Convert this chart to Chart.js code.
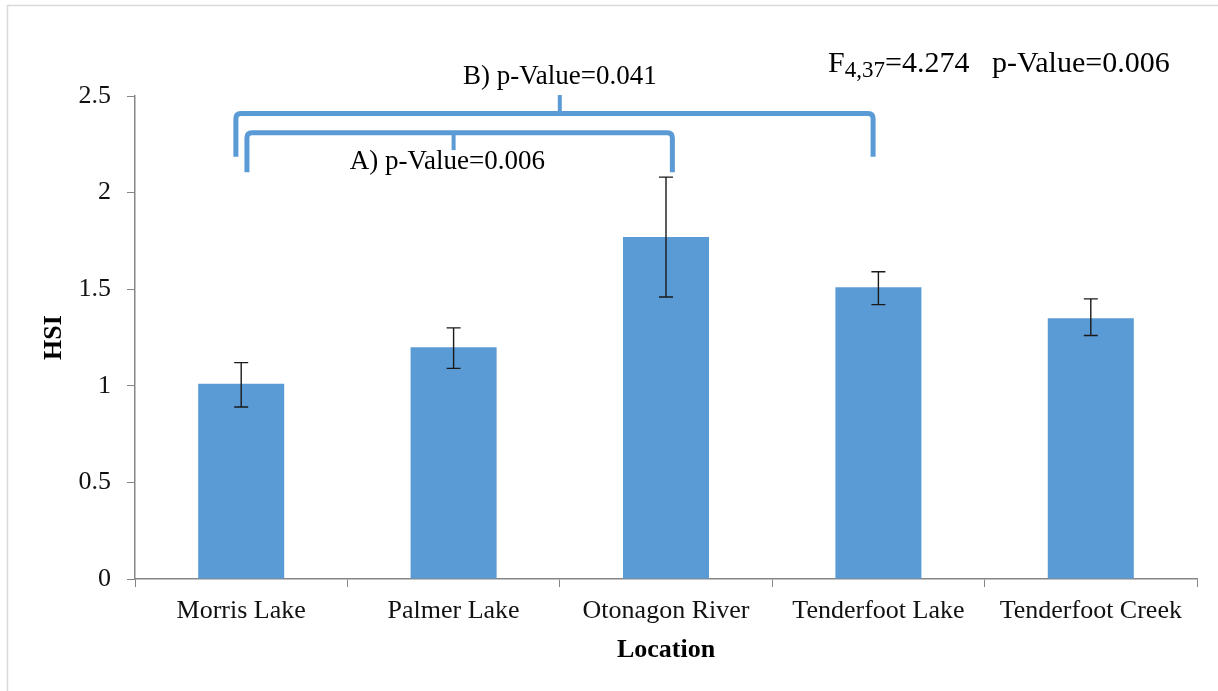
<!DOCTYPE html>
<html>
<head>
<meta charset="utf-8">
<script src="https://cdn.jsdelivr.net/npm/chart.js@4/dist/chart.umd.min.js"></script>
<style>
  html, body { margin: 0; padding: 0; background: #fff; }
  #wrap { width: 1218px; height: 691px; position: relative; }
</style>
</head>
<body>
<div id="wrap"><canvas id="hsi"></canvas></div>
<script>
const locations = ["Morris Lake", "Palmer Lake", "Otonagon River", "Tenderfoot Lake", "Tenderfoot Creek"];
const hsiMean = [1.01, 1.20, 1.77, 1.51, 1.35];
const hsiLow = [0.89, 1.09, 1.46, 1.42, 1.26];
const hsiHigh = [1.12, 1.30, 2.08, 1.59, 1.45];
const yTicks = [0, 0.5, 1, 1.5, 2, 2.5];

// comparison brackets (category index / HSI units)
const bracketFrom = [-0.025, 0.027];
const bracketTo = [2.975, 2.03];
const bracketTop = [2.41, 2.31];
const bracketEnd = [2.185, 2.105];
const bracketMid = [1.5, 1.0];
const bracketMidEnd = [2.505, 2.22];
const bracketLabels = ["B) p-Value=0.041", "A) p-Value=0.006"];
const labelX = [1.5, 0.971];
const labelY = [2.562, 2.122];

const statsX = 2.763;
const statsY = 2.624;

const blue = "#5B9BD5";
const axisGrey = "#868686";
const serif = "'Liberation Serif', 'Times New Roman', serif";

const extras = {
  id: "extras",
  afterDatasetsDraw(chart) {
    const ctx = chart.ctx;
    const x = chart.scales.x;
    const y = chart.scales.y;
    ctx.save();

    // figure frame (left + top only)
    ctx.strokeStyle = "#D9D9D9";
    ctx.lineWidth = 1.5;
    ctx.beginPath();
    ctx.moveTo(7.5, 691);
    ctx.lineTo(7.5, 5.5);
    ctx.lineTo(1218, 5.5);
    ctx.stroke();

    // error bars
    ctx.strokeStyle = "#1a1a1a";
    ctx.lineWidth = 1.4;
    for (let i = 0; i < hsiMean.length; i++) {
      const px = x.getPixelForValue(i);
      const lo = y.getPixelForValue(hsiLow[i]);
      const hi = y.getPixelForValue(hsiHigh[i]);
      ctx.beginPath();
      ctx.moveTo(px, lo);
      ctx.lineTo(px, hi);
      ctx.moveTo(px - 7, lo);
      ctx.lineTo(px + 7, lo);
      ctx.moveTo(px - 7, hi);
      ctx.lineTo(px + 7, hi);
      ctx.stroke();
    }

    // brackets
    ctx.strokeStyle = blue;
    const r = 5;
    for (let b = 0; b < bracketFrom.length; b++) {
      const l = x.getPixelForValue(bracketFrom[b]);
      const rr = x.getPixelForValue(bracketTo[b]);
      const top = y.getPixelForValue(bracketTop[b]);
      const end = y.getPixelForValue(bracketEnd[b]);
      ctx.lineWidth = 5;
      ctx.beginPath();
      ctx.moveTo(l, end);
      ctx.lineTo(l, top + r);
      ctx.quadraticCurveTo(l, top, l + r, top);
      ctx.lineTo(rr - r, top);
      ctx.quadraticCurveTo(rr, top, rr, top + r);
      ctx.lineTo(rr, end);
      ctx.stroke();
      const m = x.getPixelForValue(bracketMid[b]);
      ctx.lineWidth = 4;
      ctx.beginPath();
      ctx.moveTo(m, top);
      ctx.lineTo(m, y.getPixelForValue(bracketMidEnd[b]));
      ctx.stroke();
    }

    // bracket labels
    ctx.fillStyle = "#000";
    ctx.font = "27px " + serif;
    ctx.textAlign = "center";
    ctx.textBaseline = "alphabetic";
    for (let b = 0; b < bracketLabels.length; b++) {
      ctx.fillText(bracketLabels[b], x.getPixelForValue(labelX[b]), y.getPixelForValue(labelY[b]));
    }

    // ANOVA result
    let sx = x.getPixelForValue(statsX);
    const sy = y.getPixelForValue(statsY);
    ctx.textAlign = "left";
    ctx.font = "30px " + serif;
    ctx.fillText("F", sx, sy);
    sx += ctx.measureText("F").width;
    ctx.font = "23px " + serif;
    ctx.fillText("4,37", sx, sy + 5);
    sx += ctx.measureText("4,37").width;
    ctx.font = "30px " + serif;
    ctx.fillText("=4.274   p-Value=0.006", sx, sy);

    ctx.restore();
  }
};

Chart.defaults.font.family = serif;
Chart.defaults.color = "#111";

new Chart(document.getElementById("hsi"), {
  type: "bar",
  data: {
    labels: locations,
    datasets: [{
      label: "HSI",
      data: hsiMean,
      backgroundColor: blue,
      borderWidth: 0,
      categoryPercentage: 1,
      barPercentage: 0.405
    }]
  },
  options: {
    responsive: true,
    maintainAspectRatio: false,
    animation: false,
    devicePixelRatio: 1,
    layout: { padding: { left: 0, top: 96, right: 21, bottom: 0 } },
    plugins: {
      legend: { display: false },
      tooltip: { enabled: false }
    },
    scales: {
      x: {
        grid: { display: true, drawOnChartArea: false, drawTicks: true, tickLength: 8, color: axisGrey, offset: true },
        border: { display: true, color: axisGrey, width: 1.5 },
        ticks: { font: { size: 26 }, maxRotation: 0, autoSkip: false, padding: 9, color: "#111" },
        title: { display: true, text: "Location", font: { size: 26, weight: "bold" }, color: "#000", padding: { top: 0, bottom: 25 } },
        afterFit(scale) { scale.height = 112; }
      },
      y: {
        min: 0,
        max: 2.5,
        afterBuildTicks(scale) { scale.ticks = yTicks.map(v => ({ value: v })); },
        grid: { display: true, drawOnChartArea: false, drawTicks: true, tickLength: 8, color: axisGrey },
        border: { display: true, color: axisGrey, width: 1.5 },
        ticks: { font: { size: 26 }, padding: 16, color: "#111", callback: (v) => String(v) },
        title: { display: true, text: "HSI", font: { size: 26, weight: "bold" }, color: "#000", padding: { top: 39, bottom: 0 } },
        afterFit(scale) { scale.width = 135; }
      }
    }
  },
  plugins: [extras]
});
</script>
</body>
</html>
